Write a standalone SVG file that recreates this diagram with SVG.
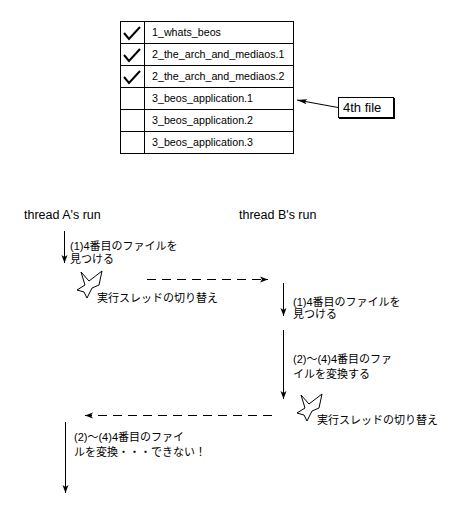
<svg xmlns="http://www.w3.org/2000/svg" width="454" height="509" viewBox="0 0 454 509">
<style>
.bg{fill:#ffffff}
.ln{stroke:#000;stroke-width:1;fill:none}
.ck{stroke:#000;stroke-width:2;fill:none;stroke-linejoin:miter}
.tt{font-family:"Liberation Sans",Arial,sans-serif;font-size:10.7px;fill:#000}
.lb{font-family:"Liberation Sans",Arial,sans-serif;font-size:12.5px;fill:#000}
.jp{font-family:"Liberation Sans","Noto Sans CJK JP",sans-serif;font-size:11px;fill:#000}
.dash{stroke-dasharray:9 6}
.star{stroke:#000;stroke-width:1;fill:#fff;stroke-linejoin:miter}
</style>
<defs>
<marker id="ah" viewBox="0 0 8 8" refX="8" refY="4" markerWidth="8" markerHeight="8" markerUnits="userSpaceOnUse" orient="auto">
<path d="M0,1 L8,4 L0,7 L2,4 z" fill="#000"/>
</marker>
<marker id="ah2" viewBox="0 0 10 8" refX="10" refY="4" markerWidth="10" markerHeight="8" markerUnits="userSpaceOnUse" orient="auto">
<path d="M0,1.5 L10,4 L0,6.5 L2,4 z" fill="#000"/>
</marker>
<polygon id="starShape" points="81,272 89,281 102,271 99,285 92,288 87,298 84,292 77,290 85,285"/>
</defs>
<rect class="bg" x="0" y="0" width="454" height="509"/>

<g id="file-table">
<rect class="ln" x="120.5" y="21.5" width="173" height="132"/>
<line class="ln" x1="144.5" y1="21.5" x2="144.5" y2="153.5"/>
<line class="ln" x1="120.5" y1="43.5" x2="293.5" y2="43.5"/>
<line class="ln" x1="120.5" y1="65.5" x2="293.5" y2="65.5"/>
<line class="ln" x1="120.5" y1="87.5" x2="293.5" y2="87.5"/>
<line class="ln" x1="120.5" y1="109.5" x2="293.5" y2="109.5"/>
<line class="ln" x1="120.5" y1="131.5" x2="293.5" y2="131.5"/>
<path class="ck" d="M124,33 L129,39 L140,27"/>
<path class="ck" d="M124,55 L129,61 L140,49"/>
<path class="ck" d="M124,77 L129,83 L140,71"/>
<text class="tt" x="152" y="36">1_whats_beos</text>
<text class="tt" x="152" y="58">2_the_arch_and_mediaos.1</text>
<text class="tt" x="152" y="80">2_the_arch_and_mediaos.2</text>
<text class="tt" x="152" y="102">3_beos_application.1</text>
<text class="tt" x="152" y="124">3_beos_application.2</text>
<text class="tt" x="152" y="146">3_beos_application.3</text>
</g>

<g id="fourth-file">
<rect x="339" y="98" width="56" height="21" fill="#000"/>
<rect x="338.5" y="97.5" width="55" height="20" fill="#fff" stroke="#000" stroke-width="1"/>
<text class="lb" x="343" y="112" style="font-size:13px">4th file</text>
</g>

<g id="thread-a-label"><text class="lb" x="24" y="219">thread A's run</text></g>
<g id="thread-b-label"><text class="lb" x="239" y="219">thread B's run</text></g>

<g id="step-a1">
<text class="jp" x="70" y="250">(1)4番目のファイルを</text>
<text class="jp" x="70" y="263">見つける</text>
</g>
<g id="switch-1">
<use href="#starShape" class="star"/>
<text class="jp" x="97" y="302">実行スレッドの切り替え</text>
</g>
<g id="step-b1">
<text class="jp" x="293" y="306">(1)4番目のファイルを</text>
<text class="jp" x="293" y="318">見つける</text>
</g>
<g id="step-b2">
<text class="jp" x="293" y="363">(2)～(4)4番目のファ</text>
<text class="jp" x="293" y="378">イルを変換する</text>
</g>
<g id="switch-2">
<use href="#starShape" class="star" transform="translate(220,123)"/>
<text class="jp" x="317" y="424">実行スレッドの切り替え</text>
</g>
<g id="step-a2">
<text class="jp" x="74" y="441">(2)～(4)4番目のファイ</text>
<text class="jp" x="74" y="456">ルを変換・・・できない！</text>
</g>

<g id="connectors">
<line class="ln" x1="338" y1="107.5" x2="297" y2="100" marker-end="url(#ah2)"/>
<line class="ln" x1="64.5" y1="231" x2="64.5" y2="263" marker-end="url(#ah)"/>
<line class="ln dash" x1="147" y1="279.5" x2="268" y2="279.5" marker-end="url(#ah)"/>
<line class="ln" x1="283.5" y1="283" x2="283.5" y2="316" marker-end="url(#ah)"/>
<line class="ln" x1="283.5" y1="330" x2="283.5" y2="399" marker-end="url(#ah)"/>
<line class="ln dash" x1="272" y1="415.5" x2="85" y2="415.5" marker-end="url(#ah)"/>
<line class="ln" x1="65.5" y1="422" x2="65.5" y2="493" marker-end="url(#ah)"/>
</g>
</svg>
